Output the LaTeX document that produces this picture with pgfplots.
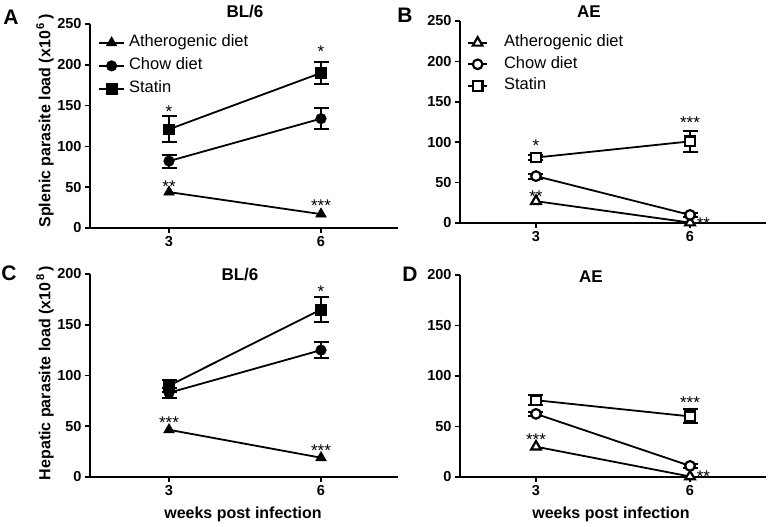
\documentclass[border=0pt]{standalone}
\usepackage{fontspec}
\setmainfont{Liberation Sans}
\usepackage{pgfplots}
\pgfplotsset{compat=1.18}

\tikzset{star/.style={anchor=base, font=\fontsize{17}{18}\selectfont, inner sep=0pt}}
\pgfplotsset{
  panel/.style={
    scale only axis, axis lines=left,
    axis line style={-, line width=1.9pt},
    tick align=outside, major tick length=5pt,
    tick style={line width=1.7pt, black},
    xtick={3,6}, ymin=0,
    tick label style={font=\fontsize{14.5}{16}\selectfont\bfseries},
    /pgf/number format/assume math mode=true,
    clip=false,
    error bars/error bar style={line width=2pt, solid, black},
    error bars/error mark options={rotate=90, mark size=7.5pt, line width=2pt, black},
    legend cell align=left,
    legend style={draw=none, fill=none, anchor=north west, inner sep=0pt,
      font=\fontsize{16.5}{18}\selectfont, row sep=4pt,
      nodes={inner sep=2pt, text height=11.5pt, text depth=3.5pt}},
  },
  base/.style={black, line width=1.8pt},
  fA/.style={base, mark=triangle*, mark size=6.2pt, mark options={solid, fill=black, line width=0.5pt}},
  fC/.style={base, mark=*, mark size=5.3pt, mark options={solid, fill=black, line width=0.5pt}},
  fS/.style={base, mark=square*, mark size=5.3pt, mark options={solid, fill=black, line width=0.5pt}},
  oA/.style={base, mark=triangle*, mark size=5.6pt, mark options={solid, fill=white, line width=2.2pt}},
  oC/.style={base, mark=*, mark size=4.8pt, mark options={solid, fill=white, line width=2.2pt}},
  oS/.style={base, mark=square*, mark size=4.8pt, mark options={solid, fill=white, line width=2.2pt}},
}

\begin{document}
\begin{tikzpicture}
\path[use as bounding box] (0,0) rectangle (768pt,527pt);

% ---------------- Panel A ----------------
\begin{axis}[panel, at={(90pt,299pt)}, anchor=south west,
  width=308pt, height=204pt, xmin=1.44, xmax=7.52, ymax=250,
  ytick={0,50,100,150,200,250},
  legend style={at={(axis description cs:0.026,0.955)}},
  legend image code/.code={\draw[mark repeat=2,mark phase=2] plot coordinates {(0pt,0pt)(12.5pt,0pt)(25pt,0pt)}; \path (27pt,0pt);}]
\addplot[fA] coordinates {(3,44) (6,17)};
\addlegendentry{Atherogenic diet}
\addplot[fC, error bars/.cd, y dir=both, y explicit] coordinates {(3,82) +- (0,8) (6,134) +- (0,12.5)};
\addlegendentry{Chow diet}
\addplot[fS, error bars/.cd, y dir=both, y explicit] coordinates {(3,121) +- (0,16) (6,190) +- (0,13.5)};
\addlegendentry{Statin}
\node[star] at (axis cs:3,135.4) {*};
\node[star] at (axis cs:6,209) {*};
\node[star] at (axis cs:3,43.5) {**};
\node[star] at (axis cs:6,20.2) {***};
\end{axis}

% ---------------- Panel B ----------------
\begin{axis}[panel, at={(460pt,304pt)}, anchor=south west,
  width=306pt, height=202pt, xmin=1.52, xmax=7.48, ymax=250,
  ytick={0,50,100,150,200,250},
  legend style={at={(axis description cs:0.023,0.94)}, row sep=2.5pt},
  legend image code/.code={\draw[mark repeat=2,mark phase=2] plot coordinates {(0pt,0pt)(9.5pt,0pt)(19pt,0pt)}; \path (33pt,0pt);}]
\addplot[oA] coordinates {(3,27) (6,0.5)};
\addlegendentry{Atherogenic diet}
\addplot[oC, error bars/.cd, y dir=both, y explicit] coordinates {(3,58) +- (0,3) (6,10) +- (0,2)};
\addlegendentry{Chow diet}
\addplot[oS, error bars/.cd, y dir=both, y explicit] coordinates {(3,81) +- (0,3) (6,101) +- (0,13)};
\addlegendentry{Statin}
\node[star] at (axis cs:3,88.5) {*};
\node[star] at (axis cs:6,117) {***};
\node[star] at (axis cs:3,25.4) {**};
\node[star] at (axis cs:6.26,-8) {**};
\end{axis}

% ---------------- Panel C ----------------
\begin{axis}[panel, at={(90pt,50pt)}, anchor=south west,
  width=308pt, height=203pt, xmin=1.44, xmax=7.52, ymax=200,
  ytick={0,50,100,150,200}]
\addplot[fA] coordinates {(3,46.5) (6,19)};
\addplot[fC, error bars/.cd, y dir=both, y explicit] coordinates {(3,83) +- (0,5) (6,125) +- (0,8)};
\addplot[fS, error bars/.cd, y dir=both, y explicit] coordinates {(3,90) +- (0,6) (6,165) +- (0,12)};
\node[star] at (axis cs:6,176.8) {*};
\node[star] at (axis cs:3,47.8) {***};
\node[star] at (axis cs:6,20.2) {***};
\end{axis}

% ---------------- Panel D ----------------
\begin{axis}[panel, at={(460pt,50pt)}, anchor=south west,
  width=306pt, height=202pt, xmin=1.52, xmax=7.48, ymax=200,
  ytick={0,50,100,150,200}]
\addplot[oA] coordinates {(3,30) (6,0.5)};
\addplot[oC, error bars/.cd, y dir=both, y explicit] coordinates {(3,62.5) +- (0,2) (6,11) +- (0,2)};
\addplot[oS, error bars/.cd, y dir=both, y explicit] coordinates {(3,76) +- (0,5) (6,60) +- (0,7)};
\node[star] at (axis cs:6,67.8) {***};
\node[star] at (axis cs:3,31.2) {***};
\node[star] at (axis cs:6.26,-5.4) {**};
\end{axis}

% ---------------- Labels ----------------
\begin{scope}[every node/.style={font=\fontsize{17}{19}\selectfont\bfseries, inner sep=0pt}]
\node at (245pt,515pt) {BL/6};
\node at (589pt,515pt) {AE};
\node at (240pt,252pt) {BL/6};
\node at (591pt,250pt) {AE};
\end{scope}
\begin{scope}[every node/.style={font=\fontsize{21}{23}\selectfont\bfseries, inner sep=0pt}]
\node at (11pt,510pt) {A};
\node at (405pt,512pt) {B};
\node at (9pt,254pt) {C};
\node at (410pt,253pt) {D};
\end{scope}
\begin{scope}[every node/.style={font=\fontsize{16}{18}\selectfont\bfseries, inner sep=0pt}]
\node[rotate=90] at (45pt,406pt) {Splenic parasite load (x10\textsuperscript{\,6}\,)};
\node[rotate=90] at (45pt,154pt) {Hepatic parasite load (x10\textsuperscript{\,8}\,)};
\node at (243pt,13pt) {weeks post infection};
\node at (611pt,13pt) {weeks post infection};
\end{scope}
\end{tikzpicture}
\end{document}
